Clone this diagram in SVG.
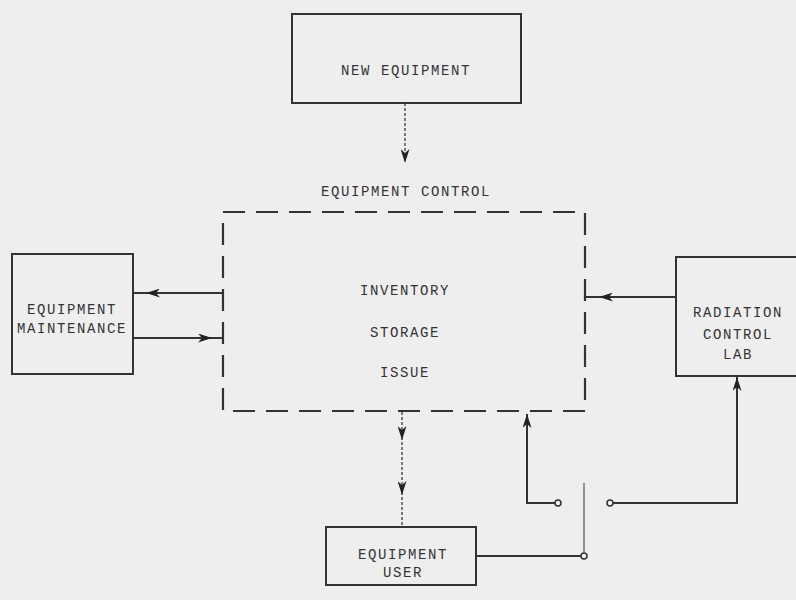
<svg xmlns="http://www.w3.org/2000/svg" width="796" height="600" viewBox="0 0 796 600">
<defs>
<style>
.box{fill:none;stroke:#333;stroke-width:2}
.dash{fill:none;stroke:#333;stroke-width:2.2;stroke-dasharray:22 11}
.t{font-family:"Liberation Mono",monospace;font-size:14px;letter-spacing:1.6px;fill:#333;text-anchor:middle}
.ln{fill:none;stroke:#333;stroke-width:2}
.thin{fill:none;stroke:#555;stroke-width:1.2}
.dot{fill:none;stroke:#444;stroke-width:1.4;stroke-dasharray:3 2}
.c{fill:#eee;stroke:#333;stroke-width:1.5}
</style>
<marker id="ah" viewBox="0 0 14 9" markerWidth="14" markerHeight="9" refX="14" refY="4.5" orient="auto" markerUnits="userSpaceOnUse">
<path d="M0,0 L14,4.5 L0,9 L4,4.5 z" fill="#222"/>
</marker>
</defs>
<rect width="796" height="600" fill="#eeeeee"/>
<g id="new-equipment">
<rect class="box" x="292" y="14" width="229" height="89"/>
<text class="t" x="406" y="75">NEW EQUIPMENT</text>
</g>
<g id="equipment-control">
<text class="t" x="406" y="196">EQUIPMENT CONTROL</text>
<rect class="dash" x="223" y="212" width="362" height="199"/>
<text class="t" x="405" y="295">INVENTORY</text>
<text class="t" x="405" y="337">STORAGE</text>
<text class="t" x="405" y="377">ISSUE</text>
</g>
<g id="equipment-maintenance">
<rect class="box" x="12" y="254" width="121" height="120"/>
<text class="t" x="72" y="314">EQUIPMENT</text>
<text class="t" x="72" y="333">MAINTENANCE</text>
</g>
<g id="radiation-control-lab">
<rect class="box" x="676" y="257" width="125" height="119"/>
<text class="t" x="738" y="317">RADIATION</text>
<text class="t" x="738" y="339">CONTROL</text>
<text class="t" x="738" y="359">LAB</text>
</g>
<g id="equipment-user">
<rect class="box" x="326" y="527" width="150" height="58"/>
<text class="t" x="403" y="559">EQUIPMENT</text>
<text class="t" x="403" y="577">USER</text>
</g>
<g id="connectors">
<path class="dot" d="M405,103 L405,163" marker-end="url(#ah)"/>
<path class="ln" d="M223,293 L146,293 L133,293" marker-mid="url(#ah)"/>
<path class="ln" d="M133,338 L212,338 L223,338" marker-mid="url(#ah)"/>
<path class="ln" d="M676,297 L599,297 L585,297" marker-mid="url(#ah)"/>
<path class="dot" d="M402,412 L402,440 L402,495 L402,527" marker-mid="url(#ah)"/>
<path class="ln" d="M476,556 L581,556"/>
<circle class="c" cx="584" cy="556" r="3"/>
<path class="thin" d="M584,553 L584,483"/>
<path class="ln" d="M555,503 L527,503 L527,414" marker-end="url(#ah)"/>
<circle class="c" cx="558" cy="503" r="3"/>
<path class="ln" d="M613,503 L737,503 L737,377" marker-end="url(#ah)"/>
<circle class="c" cx="610" cy="503" r="3"/>
</g>
</svg>
